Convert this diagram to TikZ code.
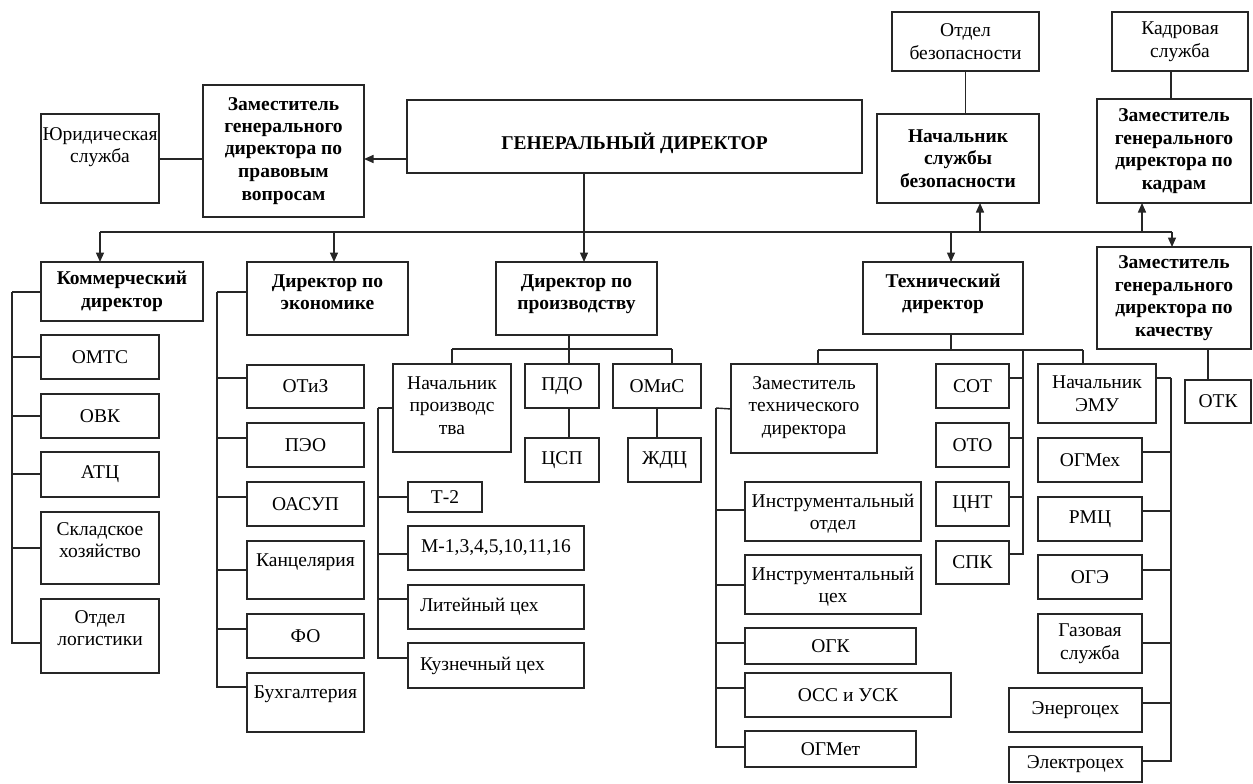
\documentclass[tikz,border=0pt]{standalone}
\usepackage{fontspec}
\setmainfont{Liberation Serif}
\usetikzlibrary{arrows.meta}
\tikzset{
  bx/.style={draw=black!85, line width=1.4pt, inner sep=0pt, outer sep=0pt, font=\fontsize{19.5}{22.5}\selectfont},
  ln/.style={draw=black!85, line width=1.4pt},
  arr/.style={-{Triangle[length=9.5pt,width=8pt]}},
}
\newcommand\mkbox[7][c]{%
  \pgfmathsetmacro\bxw{#5-#3}%
  \pgfmathsetmacro\bxh{#6-#4}%
  \node[bx, anchor=north west] (#2) at (#3,#4) {\parbox[c][\bxh pt][#1]{\bxw pt}{\centering #7}};%
}
\newcommand\tpad[1][25]{\rule{0pt}{#1pt}}
\begin{document}
\begin{tikzpicture}[x=1pt,y=-1pt]
\path[fill=white] (0,0) rectangle (1253,784);
\useasboundingbox (0,0) rectangle (1253,784);

% top level
\mkbox{otdbez}{892}{12}{1039}{71}{Отдел\\безопасности}
\mkbox{kadsl}{1112}{12}{1248}{71}{Кадровая\\служба}
\mkbox[t]{jur}{41}{114}{159}{203}{\tpad[26]Юридическая\\служба}
\mkbox[t]{zamlaw}{203}{85}{364}{217}{\tpad\bfseries Заместитель\\генерального\\директора по\\правовым\\вопросам}
\mkbox[t]{gd}{407}{100}{862}{173}{\tpad[49]\bfseries ГЕНЕРАЛЬНЫЙ ДИРЕКТОР}
\mkbox{nachsb}{877}{114}{1039}{203}{\bfseries Начальник\\службы\\безопасности}
\mkbox{zamkadr}{1097}{99}{1251}{203}{\bfseries Заместитель\\генерального\\директора по\\кадрам}
\mkbox{komm}{41}{262}{203}{321}{\bfseries Коммерческий\\директор}
\mkbox[t]{econ}{247}{262}{408}{335}{\tpad\bfseries Директор по\\экономике}
\mkbox[t]{prod}{496}{262}{657}{335}{\tpad\bfseries Директор по\\производству}
\mkbox[t]{tech}{863}{262}{1023}{334}{\tpad\bfseries Технический\\директор}
\mkbox{zamkach}{1097}{247}{1251}{349}{\bfseries Заместитель\\генерального\\директора по\\качеству}

% commercial
\mkbox{omts}{41}{335}{159}{379}{ОМТС}
\mkbox{ovk}{41}{394}{159}{438}{ОВК}
\mkbox{atc}{41}{452}{159}{497}{АТЦ}
\mkbox[t]{sklad}{41}{512}{159}{584}{\tpad[23]Складское\\хозяйство}
\mkbox[t]{logi}{41}{599}{159}{673}{\tpad[24]Отдел\\логистики}

% economics
\mkbox{otiz}{247}{365}{364}{408}{ОТиЗ}
\mkbox{peo}{247}{423}{364}{467}{ПЭО}
\mkbox{oasup}{247}{482}{364}{526}{ОАСУП}
\mkbox[t]{kanc}{247}{541}{364}{599}{\tpad Канцелярия}
\mkbox{fo}{247}{614}{364}{658}{ФО}
\mkbox[t]{buh}{247}{673}{364}{732}{\tpad Бухгалтерия}

% production
\mkbox[t]{nachpr}{393}{364}{511}{452}{\tpad Начальник\\производс\\тва}
\mkbox{pdo}{525}{364}{599}{408}{ПДО}
\mkbox{csp}{525}{438}{599}{482}{ЦСП}
\mkbox{omis}{613}{364}{701}{408}{ОМиС}
\mkbox{zhdc}{628}{438}{701}{482}{ЖДЦ}
\mkbox{t2}{408}{482}{482}{512}{Т-2}
\mkbox{mcex}{408}{526}{584}{570}{М-1,3,4,5,10,11,16}
\mkbox{lit}{408}{585}{584}{629}{\raggedright\hspace*{12pt}Литейный цех}
\mkbox{kuz}{408}{643}{584}{688}{\raggedright\hspace*{12pt}Кузнечный цех}

% technical
\mkbox[t]{zamtech}{731}{364}{877}{453}{\tpad Заместитель\\технического\\директора}
\mkbox{sot}{936}{364}{1009}{408}{СОТ}
\mkbox{oto}{936}{423}{1009}{467}{ОТО}
\mkbox{cnt}{936}{482}{1009}{526}{ЦНТ}
\mkbox{spk}{936}{541}{1009}{584}{СПК}
\mkbox{emu}{1038}{364}{1156}{423}{Начальник\\ЭМУ}
\mkbox{ogmeh}{1038}{438}{1142}{482}{ОГМех}
\mkbox{rmc}{1038}{497}{1142}{541}{РМЦ}
\mkbox{oge}{1038}{555}{1142}{599}{ОГЭ}
\mkbox{gaz}{1038}{614}{1142}{673}{Газовая\\служба}
\mkbox{energo}{1009}{688}{1142}{732}{Энергоцех}
\mkbox{elektro}{1009}{747}{1142}{782}{Электроцех}
\mkbox[t]{instro}{745}{482}{921}{541}{\tpad Инструментальный\\отдел}
\mkbox[t]{instrc}{745}{555}{921}{614}{\tpad Инструментальный\\цех}
\mkbox{ogk}{745}{628}{916}{664}{ОГК}
\mkbox{oss}{745}{673}{951}{717}{ОСС и УСК}
\mkbox{ogmet}{745}{731}{916}{767}{ОГМет}
\mkbox{otk}{1185}{380}{1251}{423}{ОТК}

% coordinates
\coordinate (bl) at (100,232);
\coordinate (br) at (1172,232);
\coordinate (bE) at (334,232);
\coordinate (bP) at (584,232);
\coordinate (bT) at (951,232);
\coordinate (bS) at (980,232);
\coordinate (bK) at (1142,232);
\coordinate (sK) at (12,292);
\coordinate (sE) at (217,292);
\coordinate (sN) at (378,408);
\coordinate (sZ) at (716,408);
\coordinate (pb) at (569,349);
\coordinate (pbl) at (452,349);
\coordinate (pbr) at (672,349);
\coordinate (tb) at (951,350);
\coordinate (tbl) at (818,350);
\coordinate (tbr) at (1083,350);
\coordinate (sT) at (1023,350);
\coordinate (sM) at (1171,378);
\coordinate (kk) at ([xshift=-9]kadsl.south);
\coordinate (ok) at ([xshift=-10]otk.north);

% top connectors
\draw[ln] (otdbez.south) -- (otdbez.south |- nachsb.north);
\draw[ln] (kk) -- (zamkadr.north -| kk);
\draw[ln] ([yshift=-0.5]jur.east) -- ([yshift=-0.5]zamlaw.west |- jur.east);
\draw[ln,arr] ([yshift=-0.5]gd.west |- jur.east) -- ([yshift=-0.5]zamlaw.east |- jur.east);
\draw[ln] (bl) -- (br);
\draw[ln,arr] (gd.south -| bP) -- (prod.north -| bP);
\draw[ln,arr] (bl) -- (komm.north -| bl);
\draw[ln,arr] (bE) -- (econ.north -| bE);
\draw[ln,arr] (bT) -- (tech.north -| bT);
\draw[ln,arr] (bS) -- (nachsb.south -| bS);
\draw[ln,arr] (bK) -- (zamkadr.south -| bK);
\draw[ln,arr] (br) -- (zamkach.north -| br);

% commercial
\draw[ln] (komm.west |- sK) -- (sK);
\draw[ln] (omts.west) -| (sK);
\draw[ln] (ovk.west) -| (sK);
\draw[ln] ([yshift=0.5]atc.west) -| (sK);
\draw[ln] (sklad.west) -| (sK);
\draw[ln] ([yshift=-7]logi.west) -| (sK);

% economics
\draw[ln] (econ.west |- sE) -- (sE);
\draw[ln] ([yshift=8.5]otiz.west) -| (sE);
\draw[ln] ([yshift=7]peo.west) -| (sE);
\draw[ln] ([yshift=7]oasup.west) -| (sE);
\draw[ln] (kanc.west) -| (sE);
\draw[ln] ([yshift=7]fo.west) -| (sE);
\draw[ln] ([yshift=15.5]buh.west) -| (sE);

% production
\draw[ln] (prod.south -| pb) -- (pdo.north -| pb);
\draw[ln] (pdo.south -| pb) -- (csp.north -| pb);
\draw[ln] (pbl) -- (pbr);
\draw[ln] (pbl) -- (nachpr.north -| pbl);
\draw[ln] (pbr) -- (omis.north -| pbr);
\draw[ln] (omis.south) -- (omis.south |- zhdc.north);
\draw[ln] (nachpr.west) -- (sN);
\draw[ln] (t2.west) -| (sN);
\draw[ln] ([yshift=-6]mcex.west) -| (sN);
\draw[ln] ([yshift=8]lit.west) -| (sN);
\draw[ln] ([yshift=7.5]kuz.west) -| (sN);

% technical
\draw[ln] (tech.south -| tb) -- (tb);
\draw[ln] (tbl) -- (tbr);
\draw[ln] (tbl) -- (zamtech.north -| tbl);
\draw[ln] (tbr) -- (emu.north -| tbr);
\draw[ln] ([yshift=8]sot.east) -| (sT);
\draw[ln] ([yshift=7]oto.east) -| (sT);
\draw[ln] ([yshift=7]cnt.east) -| (sT);
\draw[ln] ([yshift=8.5]spk.east) -| (sT);
\draw[ln] ([yshift=-0.5]zamtech.west) -- (sZ);
\draw[ln] ([yshift=1.5]instro.west) -| (sZ);
\draw[ln] ([yshift=-0.5]instrc.west) -| (sZ);
\draw[ln] ([yshift=3]ogk.west) -| (sZ);
\draw[ln] ([yshift=7]oss.west) -| (sZ);
\draw[ln] ([yshift=2]ogmet.west) -| (sZ);
\draw[ln] ([yshift=15.5]emu.east) -- (sM);
\draw[ln] ([yshift=8]ogmeh.east) -| (sM);
\draw[ln] ([yshift=8]rmc.east) -| (sM);
\draw[ln] ([yshift=7]oge.east) -| (sM);
\draw[ln] ([yshift=0.5]gaz.east) -| (sM);
\draw[ln] ([yshift=7]energo.east) -| (sM);
\draw[ln] ([yshift=3.5]elektro.east) -| (sM);
\draw[ln] (ok) -- (zamkach.south -| ok);
\end{tikzpicture}
\end{document}
